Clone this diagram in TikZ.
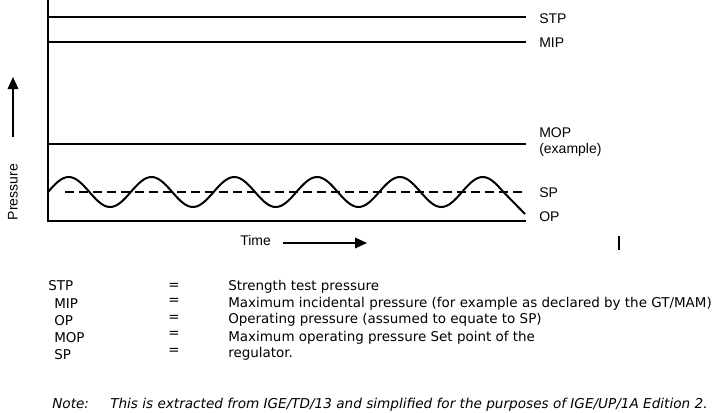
\documentclass[tikz,border=0pt]{standalone}
\usepackage{fontspec}
\usepackage{tikz}
\usetikzlibrary{arrows.meta}
\newfontfamily\chartfont{Liberation Sans}
\newfontfamily\keyfont{DejaVu Sans}

\begin{document}
\begin{tikzpicture}[x=0.75pt, y=-0.75pt, >={Triangle[length=9pt, width=8pt]},
    lbl/.style={font=\chartfont\fontsize{10.5}{12}\selectfont, inner sep=0pt, anchor=base west},
    key/.style={font=\keyfont\fontsize{10.1}{12}\selectfont, inner sep=0pt, anchor=base west},
    note/.style={font=\keyfont\itshape\fontsize{10.2}{12}\selectfont, inner sep=0pt, anchor=base west},
    level/.style={line width=0.9pt},
    wave/.style={line width=1.5pt}]
    \useasboundingbox (0,0) rectangle (725,412);

    % Axes
    \coordinate (top) at (48,0);
    \coordinate (origin) at (48,221);
    \coordinate (opEnd) at (526,221);
    \draw[level] (top) -- (origin) -- (opEnd);

    % Pressure levels
    \coordinate (stpL) at (48,17);  \coordinate (stpR) at (526,17);
    \coordinate (mipL) at (48,42);  \coordinate (mipR) at (526,42);
    \coordinate (mopL) at (48,144); \coordinate (mopR) at (526,144);
    \coordinate (spL) at (65,192);  \coordinate (spR) at (526,192);
    \draw[level] (stpL) -- (stpR);
    \draw[level] (mipL) -- (mipR);
    \draw[level] (mopL) -- (mopR);
    \draw[wave, dash pattern=on 7pt off 3.5pt] (spL) -- (spR);

    % Level labels
    \node[lbl] (stp) at (539,23) {STP};
    \node[lbl] (mip) at (539,47) {MIP};
    \node[lbl] (mop) at (539,137) {MOP};
    \node[lbl] (mopex) at (539,153) {(example)};
    \node[lbl] (sp) at (539,197) {SP};
    \node[lbl] (op) at (539,221) {OP};

    % Operating pressure swinging round the set point
    \coordinate (waveEnd) at (525,214);
    \draw[wave, line join=round] plot[samples=200, domain=48:503]
        (\x, {192 - 15*sin(4.3478*(\x-48))}) -- (waveEnd);

    % Pressure axis label
    \coordinate (pBot) at (13,137);
    \coordinate (pTop) at (13,77);
    \draw[level, ->] (pBot) -- (pTop);
    \node[lbl, rotate=90, anchor=center] (pres) at (13,192) {Pressure};

    % Time axis label
    \node[lbl] (time) at (240,245) {Time};
    \coordinate (tStart) at (283,243);
    \coordinate (tEnd) at (367,243);
    \draw[level, ->] (tStart) -- (tEnd);

    % Stray mark
    \coordinate (barTop) at (619,236);
    \coordinate (barBot) at (619,250);
    \draw[level] (barTop) -- (barBot);

    % Key
    \node[key] (kStp) at (48,290) {STP};
    \node[key] (kMip) at (54,308) {MIP};
    \node[key] (kOp) at (54,325) {OP};
    \node[key] (kMop) at (54,342) {MOP};
    \node[key] (kSp) at (54,359) {SP};
    \node[key] (eq1) at (168,289.5) {=};
    \node[key] (eq2) at (168,304.5) {=};
    \node[key] (eq3) at (168,321.5) {=};
    \node[key] (eq4) at (168,337.5) {=};
    \node[key] (eq5) at (168,354.5) {=};
    \node[key] (dStp) at (228,290) {Strength test pressure};
    \node[key] (dMip) at (228,307) {Maximum incidental pressure (for example as declared by the GT/MAM)};
    \node[key] (dOp) at (228,323) {Operating pressure (assumed to equate to SP)};
    \node[key] (dMop) at (228,341) {Maximum operating pressure Set point of the};
    \node[key] (dSp) at (228,357) {regulator.};

    % Note
    \node[note] (noteHead) at (52,408) {Note:};
    \node[note] (noteText) at (110,408) {This is extracted from IGE/TD/13 and simplified for the purposes of IGE/UP/1A Edition 2.};
\end{tikzpicture}
\end{document}
